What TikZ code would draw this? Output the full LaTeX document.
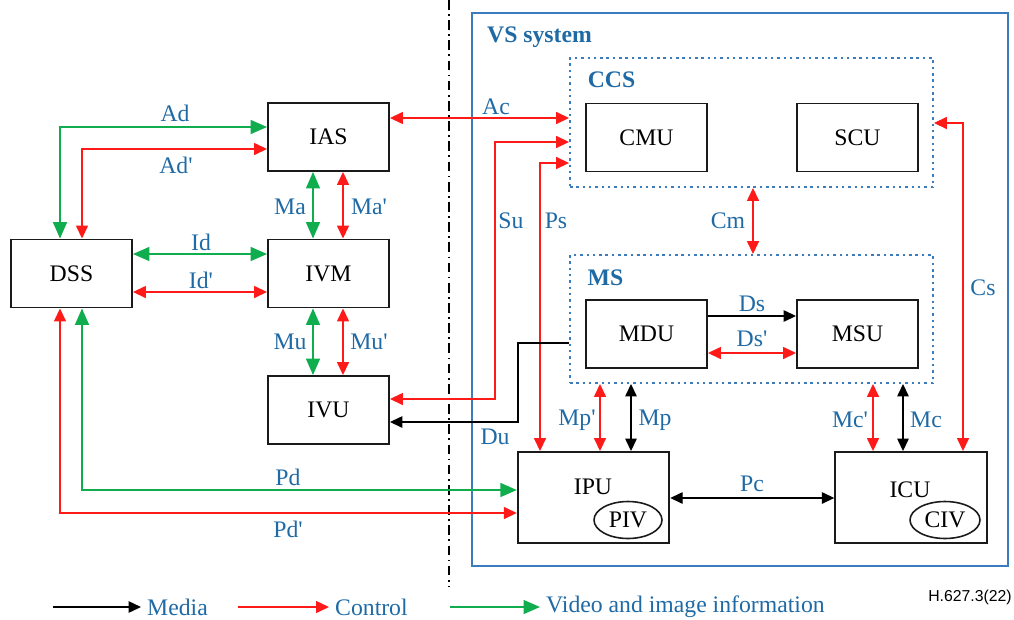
\documentclass[tikz,border=0pt]{standalone}
\usepackage{fontspec}
\setmainfont{Liberation Serif}
\newfontfamily\vsserif{Liberation Serif}
\newfontfamily\capfont{Liberation Sans}
\usetikzlibrary{arrows.meta,shapes.geometric}
\definecolor{vsink}{HTML}{1A1A1A}
\definecolor{vsblue}{HTML}{1F6AA5}
\definecolor{vsframe}{HTML}{3A7CBD}
\definecolor{vsred}{HTML}{FF1A1A}
\definecolor{vsgreen}{HTML}{10AD4F}
\tikzset{
  vs text/.style={font=\vsserif\fontsize{13.5}{16}\selectfont, text=black},
  vs unit/.style={draw=vsink, line width=1.1pt, minimum width=2.42cm,
    minimum height=1.36cm, inner sep=0pt},
  vs wide/.style={vs unit, minimum width=3.03cm, minimum height=1.82cm},
  vs oval/.style={draw=vsink, line width=0.9pt, ellipse, minimum width=1.36cm,
    minimum height=0.74cm, inner sep=0pt},
  vs group/.style={draw=vsframe, line width=1.1pt, dash pattern=on 1.4pt off 2.2pt,
    minimum width=7.26cm},
  vs frame/.style={draw=vsframe, line width=0.9pt, minimum width=10.72cm,
    minimum height=11.06cm},
  vs label/.style={text=vsblue},
  vs title/.style={text=vsblue, font=\vsserif\fontsize{13.5}{16}\selectfont\bfseries},
  vs media/.style={draw=black, line width=0.8pt, >={Triangle[length=2.5mm,width=2.3mm]}},
  vs control/.style={draw=vsred, line width=0.85pt, >={Triangle[length=2.6mm,width=2.4mm]}},
  vs video/.style={draw=vsgreen, line width=0.95pt, >={Triangle[length=3.3mm,width=2.8mm]}},
  vs border/.style={draw=black, line width=0.9pt, dash pattern=on 5.5pt off 2.5pt on 1pt off 2.5pt}
}
\begin{document}
\begin{tikzpicture}[vs text, x=0.02cm, y=-0.02cm]
  \useasboundingbox (0,0) rectangle (1014,619);
  % frames
  \node[vs frame] (vs) at (740,289.5) {};
  \node[vs group, minimum height=2.58cm] (ccs) at (751.5,122.5) {};
  \node[vs group, minimum height=2.56cm] (ms) at (751.5,319) {};
  \node[vs title] (vstitle) at (539.5,37) {VS system};
  \node[vs title] (ccstitle) at (611.5,80) {CCS};
  \node[vs title] (mstitle) at (605.5,278) {MS};
  \draw[vs border] (449,0) -- (449,587);
  % units
  \node[vs unit] (ias) at (328.5,137) {IAS};
  \node[vs unit] (dss) at (71.5,273.5) {DSS};
  \node[vs unit] (ivm) at (328.5,273.5) {IVM};
  \node[vs unit] (ivu) at (328.5,410) {IVU};
  \node[vs unit] (cmu) at (646.5,137.5) {CMU};
  \node[vs unit] (scu) at (857.5,137.5) {SCU};
  \node[vs unit] (mdu) at (646.5,334) {MDU};
  \node[vs unit] (msu) at (857.5,334) {MSU};
  \node[vs wide] (ipu) at (593.5,497.5) {};
  \node[vs wide] (icu) at (911,497.5) {};
  \node (ipuname) at (593,487) {IPU};
  \node (icuname) at (910,490) {ICU};
  \node[vs oval] (piv) at (628,520) {PIV};
  \node[vs oval, minimum width=1.4cm] (civ) at (945,520) {CIV};
  % video and image information
  \draw[vs video,<->] (dss.north -| 60,0) |- (ias.west |- 0,127);
  \draw[vs video,<->] (dss.east |- 0,254) -- (ivm.west |- 0,254);
  \draw[vs video,<->] (ias.south -| 313,0) -- (ivm.north -| 313,0);
  \draw[vs video,<->] (ivm.south -| 313,0) -- (ivu.north -| 313,0);
  \draw[vs video,<->] (dss.south -| 82,0) |- (ipu.west |- 0,490);
  % control
  \draw[vs control,<->] (dss.north -| 82,0) |- (ias.west |- 0,149);
  \draw[vs control,<->] (dss.east |- 0,292) -- (ivm.west |- 0,292);
  \draw[vs control,<->] (ias.south -| 343,0) -- (ivm.north -| 343,0);
  \draw[vs control,<->] (ivm.south -| 343,0) -- (ivu.north -| 343,0);
  \draw[vs control,<->] (dss.south -| 60,0) |- (ipu.west |- 0,513);
  \draw[vs control,<->] (ias.east |- 0,118) -- (ccs.west |- 0,118);
  \draw[vs control,<->] (ccs.west |- 0,142) -| (495,399) -- (ivu.east |- 0,399);
  \draw[vs control,<->] (ccs.west |- 0,163) -| (ipu.north -| 540,0);
  \draw[vs control,<->] (ccs.south -| 753,0) -- (ms.north -| 753,0);
  \draw[vs control,<->] (ccs.east |- 0,123) -| (icu.north -| 963,0);
  \draw[vs control,<->] (mdu.east |- 0,353) -- (msu.west |- 0,353);
  \draw[vs control,<->] (ms.south -| 600,0) -- (ipu.north -| 600,0);
  \draw[vs control,<->] (ms.south -| 873,0) -- (icu.north -| 873,0);
  % media
  \draw[vs media,->] (mdu.east |- 0,316) -- (msu.west |- 0,316);
  \draw[vs media,->] (ms.west |- 0,343) -| (518,422) -- (ivu.east |- 0,422);
  \draw[vs media,<->] (ms.south -| 631,0) -- (ipu.north -| 631,0);
  \draw[vs media,<->] (ms.south -| 903,0) -- (icu.north -| 903,0);
  \draw[vs media,<->] (ipu.east |- 0,498) -- (icu.west |- 0,498);
  % interface names
  \node[vs label] (adlbl) at (175,113) {Ad};
  \node[vs label] (adplbl) at (176,165) {Ad\textquotesingle};
  \node[vs label] (idlbl) at (201,242) {Id};
  \node[vs label] (idplbl) at (201,280) {Id\textquotesingle};
  \node[vs label] (malbl) at (290,207) {Ma};
  \node[vs label] (maplbl) at (369,207) {Ma\textquotesingle};
  \node[vs label] (mulbl) at (290,342) {Mu};
  \node[vs label] (muplbl) at (369,342) {Mu\textquotesingle};
  \node[vs label] (pdlbl) at (288,477) {Pd};
  \node[vs label] (pdplbl) at (288,529) {Pd\textquotesingle};
  \node[vs label] (aclbl) at (496,107) {Ac};
  \node[vs label] (sulbl) at (511,221) {Su};
  \node[vs label] (pslbl) at (556,221) {Ps};
  \node[vs label] (cmlbl) at (728,221) {Cm};
  \node[vs label] (cslbl) at (983,288) {Cs};
  \node[vs label] (dslbl) at (752,304) {Ds};
  \node[vs label] (dsplbl) at (752,339) {Ds\textquotesingle};
  \node[vs label] (dulbl) at (495,437) {Du};
  \node[vs label] (mpplbl) at (577,420) {Mp\textquotesingle};
  \node[vs label] (mplbl) at (655,420) {Mp};
  \node[vs label] (mcplbl) at (850,420) {Mc\textquotesingle};
  \node[vs label] (mclbl) at (926,420) {Mc};
  \node[vs label] (pclbl) at (752,484) {Pc};
  % key
  \coordinate (keymedia) at (53,607);
  \coordinate (keycontrol) at (238,607);
  \coordinate (keyvideo) at (450,607);
  \node[vs label, anchor=west] (keymediatext) at (141,607) {Media};
  \node[vs label, anchor=west] (keycontroltext) at (329,607) {Control};
  \node[vs label, anchor=west] (keyvideotext) at (540,607) {Video and image information};
  \draw[vs media,->] (keymedia) -- (keymediatext);
  \draw[vs control,->] (keycontrol) -- (keycontroltext);
  \draw[vs video,->] (keyvideo) -- (keyvideotext);
  \node[font=\capfont\fontsize{9}{11}\selectfont] (figid) at (970,597) {H.627.3(22)};
\end{tikzpicture}
\end{document}
